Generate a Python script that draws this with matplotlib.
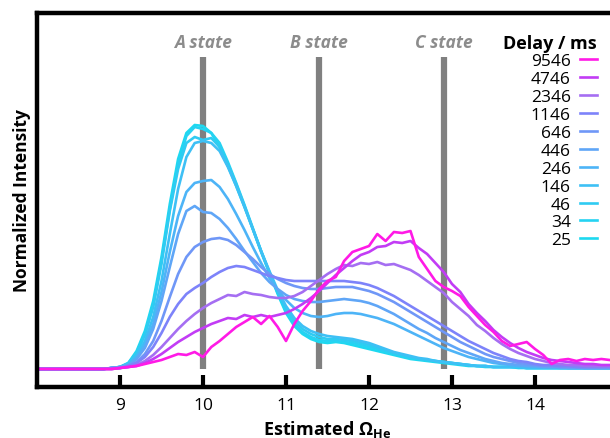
import numpy as np
import matplotlib
matplotlib.use("Agg")
import matplotlib.pyplot as plt

plt.rcParams["font.family"] = ["Open Sans", "DejaVu Sans"]
plt.rcParams["mathtext.fontset"] = "custom"
plt.rcParams["mathtext.bf"] = "Open Sans:bold"
plt.rcParams["mathtext.rm"] = "Open Sans:bold"

# collision cross section axis: 8.0, then 8.8 ... 14.9 in 0.1 steps
omega = [8.0] + [round(8.8 + 0.1 * i, 1) for i in range(62)]

delays = ["25", "34", "46", "146", "246", "446", "646", "1146", "2346", "4746", "9546"]
colors = ["#1dd9f0", "#25d3f2", "#2fcbf2", "#3ec0f5", "#4db4f7", "#5fa6f7",
          "#6f97f7", "#7d83fa", "#a56ef2", "#c23cf5", "#ff1ae6"]

i25 = [0, 0, 1, 2, 6, 18, 38, 68, 112, 165,
       210, 236, 244, 243, 236, 222, 203, 183, 162, 140,
       118, 96, 75, 56, 43, 35, 30, 27, 26, 27,
       26, 24, 22, 20, 18, 16, 14, 12, 10, 9,
       8, 7, 6, 5, 4, 3, 3, 2, 2, 2,
       2, 1, 1, 1, 1, 1, 1, 1, 1, 1,
       1, 1, 1]
i34 = [0, 0, 1, 2, 5, 16, 35, 64, 108, 160,
       205, 233, 242, 240, 236, 226, 207, 186, 164, 141,
       118, 97, 76, 58, 45, 37, 32, 29, 28, 28,
       27, 26, 24, 22, 20, 17, 15, 13, 11, 10,
       9, 8, 7, 6, 5, 4, 3, 3, 2, 2,
       2, 2, 1, 1, 1, 1, 1, 1, 1, 1,
       1, 1, 1]
i46 = [0, 0, 1, 2, 6, 16, 34, 62, 105, 158,
       200, 226, 232, 229, 231, 222, 205, 185, 163, 140,
       117, 96, 77, 60, 48, 40, 35, 32, 30, 30,
       29, 28, 26, 24, 21, 19, 16, 14, 12, 10,
       9, 8, 7, 6, 5, 4, 3, 3, 2, 2,
       2, 2, 1, 1, 1, 1, 1, 1, 1, 1,
       1, 1, 1]
i146 = [0, 0, 1, 2, 5, 13, 28, 52, 88, 135,
        180, 212, 226, 228, 226, 218, 202, 183, 162, 140,
        118, 98, 79, 63, 51, 43, 38, 35, 33, 32,
        31, 30, 28, 26, 23, 20, 17, 15, 13, 11,
        10, 8, 7, 6, 5, 4, 3, 3, 2, 2,
        2, 2, 1, 1, 1, 1, 1, 1, 1, 1,
        1, 1, 1]
i246 = [0, 0, 1, 2, 4, 11, 24, 45, 77, 117,
        153, 177, 186, 188, 189, 182, 170, 155, 139, 122,
        106, 91, 79, 69, 61, 56, 53, 52, 53, 55,
        56, 56, 55, 53, 51, 48, 45, 41, 37, 33,
        29, 25, 21, 18, 15, 12, 10, 8, 6, 5,
        4, 3, 3, 2, 2, 2, 1, 1, 1, 1,
        1, 1, 1]
i446 = [0, 0, 1, 2, 4, 10, 21, 40, 68, 102,
        135, 158, 163, 157, 156, 150, 141, 130, 118, 107,
        96, 87, 80, 74, 70, 68, 67, 67, 68, 69,
        70, 69, 68, 66, 63, 59, 55, 50, 45, 40,
        36, 31, 27, 23, 19, 16, 13, 10, 8, 6,
        5, 4, 3, 3, 2, 2, 2, 1, 1, 1,
        1, 1, 1]
i646 = [0, 0, 1, 1, 3, 7, 15, 28, 48, 72,
        95, 112, 122, 127, 130, 131, 129, 124, 117, 110,
        102, 95, 90, 86, 83, 81, 80, 80, 81, 82,
        82, 82, 80, 78, 75, 71, 67, 62, 57, 52,
        47, 42, 37, 32, 27, 23, 19, 15, 12, 10,
        8, 6, 5, 4, 3, 3, 2, 2, 2, 1,
        1, 1, 1]
i1146 = [0, 0, 1, 1, 3, 6, 12, 22, 36, 52,
         65, 75, 81, 86, 92, 97, 101, 103, 102, 99,
         96, 93, 91, 89, 88, 88, 88, 88, 88, 88,
         88, 87, 86, 84, 81, 77, 73, 68, 63, 58,
         53, 48, 43, 38, 33, 28, 24, 20, 16, 13,
         10, 8, 7, 5, 4, 4, 3, 3, 2, 2,
         2, 2, 2]
i2346 = [0, 0, 0, 1, 2, 4, 8, 14, 22, 31,
         40, 48, 55, 61, 66, 70, 74, 73, 77, 75,
         74, 72, 71, 71, 73, 77, 83, 89, 95, 100,
         104, 103, 106, 105, 107, 104, 105, 102, 99, 94,
         88, 82, 76, 67, 60, 53, 44, 38, 31, 25,
         20, 16, 13, 10, 8, 6, 5, 4, 4, 3,
         3, 3, 3]
i4746 = [0, 0, 0, 1, 2, 3, 6, 10, 15, 21,
         27, 32, 37, 41, 45, 48, 51, 50, 54, 52,
         54, 52, 54, 56, 60, 65, 71, 78, 86, 94,
         101, 108, 114, 117, 122, 123, 127, 126, 128, 121,
         115, 106, 97, 85, 77, 65, 56, 48, 39, 32,
         26, 21, 17, 14, 11, 9, 8, 7, 6, 5,
         5, 4, 4]
i9546 = [0, 0, 0, 1, 2, 3, 5, 7, 9, 12,
         15, 14, 17, 12, 22, 28, 35, 42, 47, 52,
         45, 53, 42, 28, 45, 58, 68, 80, 88, 92,
         108, 117, 120, 123, 135, 128, 137, 136, 138, 112,
         100, 88, 82, 78, 73, 62, 53, 44, 37, 28,
         23, 25, 27, 20, 14, 5, 9, 10, 8, 10,
         9, 10, 9]
spectra = [i25, i34, i46, i146, i246, i446, i646, i1146, i2346, i4746, i9546]

states = ["A state", "B state", "C state"]
state_pos = [10.0, 11.4, 12.9]

fig = plt.figure(figsize=(6.1, 4.39), dpi=100)
ax = fig.add_axes([37 / 610, 51 / 439, 581 / 610, 374 / 439])

for pos in state_pos:
    ax.plot([pos, pos], [0, 312], color="#808080", lw=4.5, solid_capstyle="butt", zorder=1)
for pos, name in zip(state_pos, states):
    ax.text(pos, 327, name, color="#8c8c8c", fontsize=12.5, fontweight="bold",
            fontstyle="italic", ha="center", va="center")

handles = []
for d, c, y in zip(delays, colors, spectra):
    ln, = ax.plot(omega, y, color=c, lw=1.9, label=d, zorder=2)
    handles.append(ln)

ax.set_xlim(8.0, 15.0)
ax.set_ylim(-18, 356)
ax.set_xticks([9, 10, 11, 12, 13, 14])
ax.set_yticks([])
ax.tick_params(axis="x", direction="in", length=9, width=3, labelsize=12.5, pad=7)
for s in ["left", "bottom", "top"]:
    ax.spines[s].set_linewidth(3.2)
ax.spines["right"].set_visible(False)

ax.set_xlabel(r"Estimated $\mathbf{\Omega}_{\mathbf{He}}$", fontsize=13, fontweight="bold", labelpad=4)
ax.set_ylabel("Normalized Intensity", fontsize=12.5, fontweight="bold", labelpad=4)

leg = fig.legend(handles[::-1], delays[::-1], loc="upper right", bbox_to_anchor=(0.99, 0.937),
                 frameon=False, markerfirst=False, fontsize=12.5, labelspacing=0.1,
                 handlelength=1.0, handletextpad=0.5, borderaxespad=0,
                 title="Delay / ms", title_fontproperties={"weight": "bold", "size": 13})
leg._legend_box.align = "right"

fig.savefig("out.png", dpi=100)
